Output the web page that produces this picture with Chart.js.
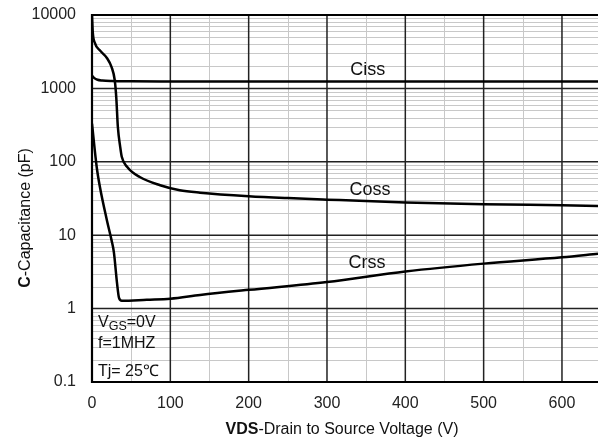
<!DOCTYPE html>
<html>
<head>
<meta charset="utf-8">
<script src="https://cdn.jsdelivr.net/npm/chart.js@4.4.1/dist/chart.umd.min.js"></script>
<style>
html,body{margin:0;padding:0;background:#fff;overflow:hidden;}
#wrap{width:598px;height:443px;position:relative;}
</style>
</head>
<body>
<div id="wrap"><canvas id="c" width="598" height="443"></canvas></div>
<script>
// ---- data ----
const cissV = [0, 3, 7, 13, 25, 50, 100, 200, 300, 400, 500, 600, 646];
const cissC = [1500, 1380, 1310, 1280, 1260, 1250, 1245, 1240, 1240, 1240, 1240, 1240, 1240];

const cossV = [0, 1, 3.5, 10, 19, 25, 29, 31, 33, 36, 38, 45, 61, 87, 112, 138, 200, 250, 300, 400, 500, 600, 646];
const cossC = [10000, 5800, 4200, 3300, 2600, 1950, 1300, 750, 300, 160, 117, 85, 62, 48, 41, 38, 34, 32, 30.5, 28, 26.5, 25.5, 25];

const crssV = [0, 6, 10, 19, 25, 28, 32, 34.5, 38, 70, 100, 138, 200, 300, 400, 500, 600, 646];
const crssC = [330, 85, 46, 16, 8.5, 5.8, 2.2, 1.4, 1.28, 1.32, 1.36, 1.53, 1.8, 2.3, 3.2, 4.1, 5.0, 5.6];

const xTicks = [0, 50, 100, 150, 200, 250, 300, 350, 400, 450, 500, 550, 600];
const xLabels = ['0', '100', '200', '300', '400', '500', '600'];
const yDecades = [0.1, 1, 10, 100, 1000, 10000];
const yLabels = ['0.1', '1', '10', '100', '1000', '10000'];

const FONT = "'Liberation Sans', Arial, sans-serif";

function pts(xs, ys){ return xs.map((v,i)=>({x:v, y:ys[i]})); }

const yTickVals = [];
for (let e = -1; e < 4; e++) {
  for (let m = 1; m < 10; m++) yTickVals.push(+(m * Math.pow(10, e)).toPrecision(3));
}
yTickVals.push(10000);

function isDecade(v){ return yDecades.some(d => Math.abs(d - v) < d * 1e-6); }

const gridPlugin = {
  id: 'grid',
  beforeDatasetsDraw(chart){
    const ctx = chart.ctx, a = chart.chartArea;
    const xs = chart.scales.x, ys = chart.scales.y;
    ctx.save();
    // light lines first
    ctx.strokeStyle = '#c8c8c8';
    ctx.lineWidth = 1;
    ctx.beginPath();
    xTicks.filter(v => v % 100 !== 0).forEach(v => {
      const p = Math.round(xs.getPixelForValue(v)) + 0.5;
      ctx.moveTo(p, a.top); ctx.lineTo(p, a.bottom);
    });
    yTickVals.filter(v => !isDecade(v)).forEach(v => {
      const p = Math.round(ys.getPixelForValue(v)) + 0.5;
      ctx.moveTo(a.left, p); ctx.lineTo(a.right, p);
    });
    ctx.stroke();
    // dark lines
    ctx.strokeStyle = '#222';
    ctx.lineWidth = 1.5;
    ctx.beginPath();
    xTicks.filter(v => v % 100 === 0).forEach(v => {
      const p = xs.getPixelForValue(v);
      ctx.moveTo(p, a.top); ctx.lineTo(p, a.bottom);
    });
    yDecades.forEach(v => {
      const p = ys.getPixelForValue(v);
      ctx.moveTo(a.left, p); ctx.lineTo(a.right, p);
    });
    ctx.stroke();
    // frame: top, left, bottom
    ctx.strokeStyle = '#000';
    ctx.lineWidth = 2.2;
    ctx.beginPath();
    ctx.moveTo(a.right, a.top); ctx.lineTo(a.left, a.top);
    ctx.lineTo(a.left, a.bottom); ctx.lineTo(a.right, a.bottom);
    ctx.stroke();
    ctx.restore();
  }
};

const labelPlugin = {
  id: 'labels',
  afterDraw(chart){
    const ctx = chart.ctx;
    const xs = chart.scales.x, ys = chart.scales.y;
    ctx.save();
    ctx.fillStyle = '#111';
    ctx.textBaseline = 'middle';
    ctx.textAlign = 'center';
    ctx.font = '18px ' + FONT;
    ctx.fillText('Ciss', xs.getPixelForValue(352), ys.getPixelForValue(1780));
    ctx.fillText('Coss', xs.getPixelForValue(355), ys.getPixelForValue(41));
    ctx.fillText('Crss', xs.getPixelForValue(351), ys.getPixelForValue(4.2));

    // conditions annotation
    ctx.textAlign = 'left';
    ctx.textBaseline = 'alphabetic';
    const ax = chart.chartArea.left + 6;
    ctx.font = '16px ' + FONT;
    ctx.fillText('V', ax, 327);
    let w = ctx.measureText('V').width;
    ctx.font = '12.5px ' + FONT;
    ctx.fillText('GS', ax + w, 330);
    w += ctx.measureText('GS').width;
    ctx.font = '16px ' + FONT;
    ctx.fillText('=0V', ax + w, 327);
    ctx.fillText('f=1MHZ', ax, 348);
    ctx.fillText('Tj= 25\u2103', ax, 376);

    // x axis title
    ctx.textBaseline = 'middle';
    const bx = 'bold 16px ' + FONT, nx = '16px ' + FONT;
    ctx.font = bx; const w1 = ctx.measureText('VDS').width;
    ctx.font = nx; const w2 = ctx.measureText('-Drain to Source Voltage (V)').width;
    let sx = 342 - (w1 + w2) / 2;
    ctx.font = bx; ctx.fillText('VDS', sx, 430);
    ctx.font = nx; ctx.fillText('-Drain to Source Voltage (V)', sx + w1, 430);

    // y axis title
    ctx.save();
    ctx.translate(26, 218);
    ctx.rotate(-Math.PI / 2);
    ctx.font = bx; const w3 = ctx.measureText('C').width;
    ctx.font = nx; const w4 = ctx.measureText('-Capacitance (pF)').width;
    let sy = -(w3 + w4) / 2;
    ctx.font = bx; ctx.fillText('C', sy, 0);
    ctx.font = nx; ctx.fillText('-Capacitance (pF)', sy + w3, 0);
    ctx.restore();
    ctx.restore();
  }
};

const lineStyle = {
  borderColor: '#000',
  borderWidth: 2.5,
  pointRadius: 0,
  fill: false,
  cubicInterpolationMode: 'monotone'
};

new Chart(document.getElementById('c'), {
  type: 'line',
  data: {
    datasets: [
      Object.assign({label: 'Ciss', data: pts(cissV, cissC)}, lineStyle),
      Object.assign({label: 'Coss', data: pts(cossV, cossC)}, lineStyle),
      Object.assign({label: 'Crss', data: pts(crssV, crssC)}, lineStyle)
    ]
  },
  options: {
    responsive: false,
    animation: false,
    devicePixelRatio: 1,
    layout: {padding: {top: 15, right: 0, left: 0, bottom: 0}},
    plugins: {legend: {display: false}, tooltip: {enabled: false}},
    scales: {
      x: {
        type: 'linear',
        min: 0,
        max: 646,
        afterBuildTicks(s){ s.ticks = xTicks.map(v => ({value: v})); },
        afterFit(s){ s.height = 61; s.paddingLeft = 0; s.paddingRight = 0; },
        ticks: {
          autoSkip: false,
          maxRotation: 0,
          padding: 12,
          color: '#222',
          font: {family: FONT, size: 16},
          callback: v => (v % 100 === 0 ? xLabels[v / 100] : '')
        },
        grid: {display: false, drawTicks: false},
        border: {display: false}
      },
      y: {
        type: 'logarithmic',
        min: 0.1,
        max: 10000,
        afterBuildTicks(s){ s.ticks = yTickVals.map(v => ({value: v})); },
        afterFit(s){ s.width = 92; s.paddingTop = 0; s.paddingBottom = 0; },
        ticks: {
          autoSkip: false,
          padding: 16,
          color: '#222',
          font: {family: FONT, size: 16},
          callback: v => { const i = yDecades.findIndex(d => Math.abs(d - v) < d * 1e-6); return i >= 0 ? yLabels[i] : ''; }
        },
        grid: {display: false, drawTicks: false},
        border: {display: false}
      }
    }
  },
  plugins: [gridPlugin, labelPlugin]
});
</script>
</body>
</html>
